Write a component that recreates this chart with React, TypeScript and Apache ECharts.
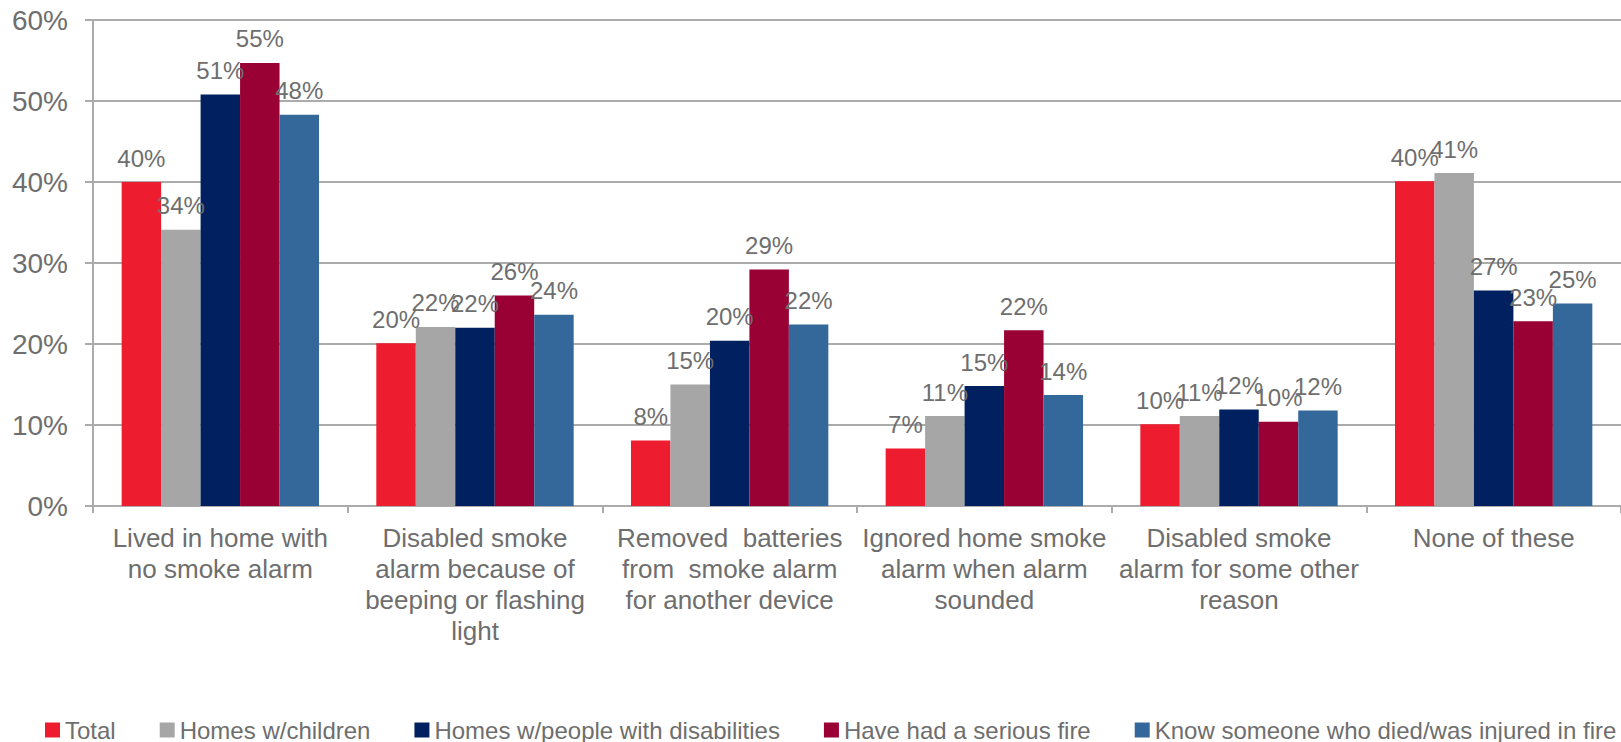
import React, { useEffect, useRef } from "react";
import * as echarts from "echarts";

const categories = [
  "Lived in home with\nno smoke alarm",
  "Disabled smoke\nalarm because of\nbeeping or flashing\nlight",
  "Removed  batteries\nfrom  smoke alarm\nfor another device",
  "Ignored home smoke\nalarm when alarm\nsounded",
  "Disabled smoke\nalarm for some other\nreason",
  "None of these",
];

const seriesNames = [
  "Total",
  "Homes w/children",
  "Homes w/people with disabilities",
  "Have had a serious fire",
  "Know someone who died/was injured in fire",
];

const total = [40.0, 20.1, 8.1, 7.1, 10.1, 40.1];
const homesChildren = [34.1, 22.1, 15.0, 11.1, 11.1, 41.1];
const homesDisabilities = [50.8, 22.0, 20.4, 14.8, 11.9, 26.6];
const seriousFire = [54.7, 26.0, 29.2, 21.7, 10.4, 22.8];
const knowSomeone = [48.3, 23.6, 22.4, 13.7, 11.8, 25.0];

const yTicks = { min: 0, max: 60, interval: 10 };

const colors = ["#ED1C2E", "#A6A6A6", "#002060", "#990033", "#35689A"];

export default function App() {
  const ref = useRef<HTMLDivElement>(null);

  useEffect(() => {
    if (!ref.current) return;
    const chart = echarts.init(ref.current, undefined, { renderer: "svg" });
    const textColor = "#6E6E6E";
    const lineColor = "#ABABAB";
    const font = "'Liberation Sans', Arial, sans-serif";
    const dataSets = [total, homesChildren, homesDisabilities, seriousFire, knowSomeone];

    chart.setOption({
      animation: false,
      backgroundColor: "#ffffff",
      color: colors,
      textStyle: { fontFamily: font },
      grid: { left: 93, right: 0, top: 20, bottom: 236, containLabel: false },
      legend: {
        show: true,
        left: 45,
        bottom: 0,
        width: 1576,
        padding: 0,
        itemWidth: 15,
        itemHeight: 15,
        itemGap: 44,
        icon: "rect",
        textStyle: { fontSize: 24, color: textColor, fontFamily: font },
        data: seriesNames,
      },
      xAxis: {
        type: "category",
        data: categories,
        axisLine: { show: true, lineStyle: { color: lineColor, width: 2 } },
        axisTick: { show: true, length: 7, interval: 0, alignWithLabel: false, lineStyle: { color: lineColor, width: 2 } },
        axisLabel: {
          interval: 0,
          fontSize: 26,
          lineHeight: 31,
          color: textColor,
          margin: 16,
          fontFamily: font,
        },
        splitLine: { show: false },
      },
      yAxis: {
        type: "value",
        min: yTicks.min,
        max: yTicks.max,
        interval: yTicks.interval,
        axisLine: { show: true, lineStyle: { color: lineColor, width: 2 } },
        axisTick: { show: true, length: 8, lineStyle: { color: lineColor, width: 2 } },
        axisLabel: {
          formatter: "{value}%",
          fontSize: 28,
          color: textColor,
          margin: 25,
          fontFamily: font,
        },
        splitLine: { show: true, lineStyle: { color: lineColor, width: 2 } },
      },
      series: seriesNames.map((name, i) => ({
        name,
        type: "bar",
        data: dataSets[i],
        barGap: "0%",
        barCategoryGap: "22.5%",
        itemStyle: { color: colors[i] },
        label: {
          show: true,
          position: "top",
          distance: 12,
          fontSize: 24,
          color: textColor,
          fontFamily: font,
          formatter: (p: any) => Math.round(p.value) + "%",
        },
      })),
    });

    return () => chart.dispose();
  }, []);

  return (
    <div
      ref={ref}
      style={{ position: "fixed", left: 0, top: 0, width: 1621, height: 742, background: "#fff" }}
    />
  );
}
